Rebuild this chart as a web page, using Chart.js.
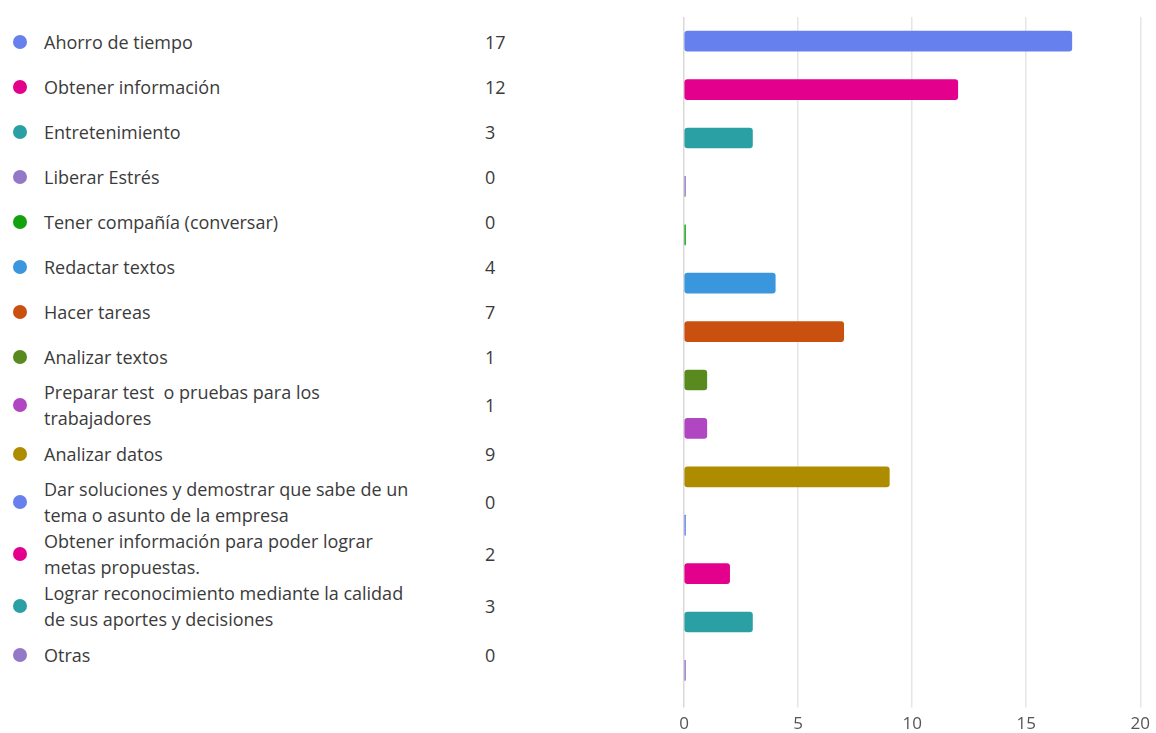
<!DOCTYPE html>
<html>
<head>
<meta charset="utf-8">
<script src="https://cdn.jsdelivr.net/npm/chart.js@4/dist/chart.umd.min.js"></script>
<style>
  html, body { margin: 0; padding: 0; background: #ffffff; }
  body { width: 1156px; height: 733px; position: relative; overflow: hidden;
         font-family: "Open Sans", "Noto Sans", sans-serif; }
  #legend { position: absolute; left: 0; top: 19px; width: 560px; }
  .row { position: relative; display: flex; align-items: center; min-height: 45px; }
  .dot { flex: 0 0 auto; width: 14px; height: 14px; border-radius: 50%; margin-left: 13px; margin-right: 17px; }
  .txt { width: 390px; font-size: 18px; line-height: 26px; color: #3b3b3b; white-space: pre; }
  .cnt { position: absolute; left: 485px; top: 50%; transform: translateY(-50%);
         font-size: 18px; line-height: 26px; color: #3b3b3b; }
  #wrap { position: absolute; left: 600px; top: 0; width: 556px; height: 740px; }
</style>
</head>
<body>
<div id="legend"></div>
<div id="wrap"><canvas id="chart"></canvas></div>
<script>
// Response options (each entry split into its displayed lines)
const categories = [
  ['Ahorro de tiempo'],
  ['Obtener información'],
  ['Entretenimiento'],
  ['Liberar Estrés'],
  ['Tener compañía (conversar)'],
  ['Redactar textos'],
  ['Hacer tareas'],
  ['Analizar textos'],
  ['Preparar test  o pruebas para los', 'trabajadores'],
  ['Analizar datos'],
  ['Dar soluciones y demostrar que sabe de un', 'tema o asunto de la empresa'],
  ['Obtener información para poder lograr', 'metas propuestas.'],
  ['Lograr reconocimiento mediante la calidad', 'de sus aportes y decisiones'],
  ['Otras']
];

// Number of responses per option
const counts = [17, 12, 3, 0, 0, 4, 7, 1, 1, 9, 0, 2, 3, 0];

// Colour per option
const colors = [
  '#6680EE', '#E3008C', '#2AA0A4', '#9478C8', '#13A10E', '#3A96DD', '#CA5010',
  '#588A1F', '#B146C2', '#AE8C00', '#6680EE', '#E3008C', '#2AA0A4', '#9478C8'
];

// Axis ticks
const xTicks = [0, 5, 10, 15, 20];

// Legend list on the left
const legendEl = document.getElementById('legend');
categories.forEach((lines, i) => {
  const row = document.createElement('div');
  row.className = 'row';
  const dot = document.createElement('span');
  dot.className = 'dot';
  dot.style.background = colors[i];
  const txt = document.createElement('span');
  txt.className = 'txt';
  txt.textContent = lines.join('\n');
  const cnt = document.createElement('span');
  cnt.className = 'cnt';
  cnt.textContent = String(counts[i]);
  row.append(dot, txt, cnt);
  legendEl.appendChild(row);
});

// Horizontal bar chart on the right
new Chart(document.getElementById('chart'), {
  type: 'bar',
  data: {
    labels: categories,
    datasets: [{
      data: counts,
      backgroundColor: colors,
      borderWidth: 0,
      borderRadius: 3,
      borderSkipped: false,
      barThickness: 20,
      minBarLength: 1.5
    }]
  },
  options: {
    indexAxis: 'y',
    responsive: true,
    maintainAspectRatio: false,
    animation: false,
    layout: { padding: { left: 84, right: 14, top: 17, bottom: 0 } },
    plugins: { legend: { display: false }, tooltip: { enabled: false } },
    scales: {
      x: {
        type: 'linear',
        min: xTicks[0],
        max: xTicks[xTicks.length - 1],
        afterBuildTicks: (axis) => { axis.ticks = xTicks.map(v => ({ value: v })); },
        border: { display: false },
        grid: {
          color: (ctx) => ctx.index === 0 ? '#d9d9d9' : '#e6e6e6',
          lineWidth: 1.5,
          tickLength: 13
        },
        ticks: {
          color: '#555555',
          padding: 6,
          font: { family: '"Open Sans", "Noto Sans", sans-serif', size: 17 }
        }
      },
      y: {
        display: false,
        grid: { display: false }
      }
    }
  }
});
</script>
</body>
</html>
